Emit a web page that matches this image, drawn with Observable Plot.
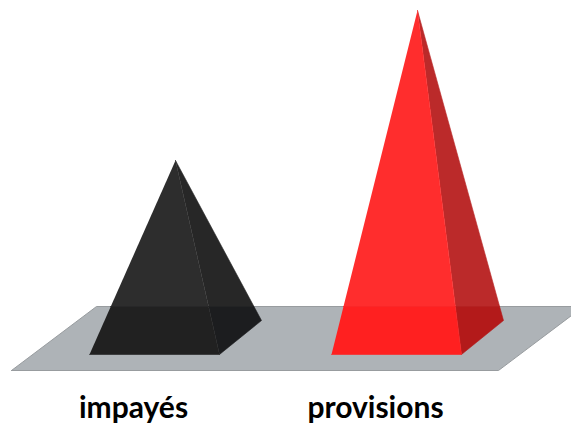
<!DOCTYPE html>
<html>
<head>
<meta charset="utf-8">
<style>
  html, body { margin: 0; padding: 0; background: #fff; overflow: hidden; }
</style>
<script src="https://cdn.jsdelivr.net/npm/d3@7"></script>
<script src="https://cdn.jsdelivr.net/npm/@observablehq/plot@0.6"></script>
</head>
<body>
<div id="chart"></div>
<script>
// Two categories, heights in chart units above the floor's front line
const categories = ["impayés", "provisions"];
const heights = [194, 344];

// Face colours: [above the floor's back edge, in front of the floor]
const frontColors = [["#2d2d2d", "#212121"], ["#ff2d2d", "#ff2020"]];
const sideColors = [["#272727", "#1c1d1f"], ["#bb2a2a", "#b31a1a"]];

// Pyramid and floor proportions, in the same units as the heights
const slotStart = 89, slotStep = 242;
const baseWidth = 130, depthX = 42, depthY = 34, apexX = 86;
const floor = {x0: 11, x1: 498, y0: -16, y1: 48, skew: 85};

const leftOf = (i) => slotStart + i * slotStep;

// Point where the edge from a to b crosses the floor's back edge
const crossing = (a, b) => {
  const t = (floor.y1 - a.y) / (b.y - a.y);
  return {x: a.x + t * (b.x - a.x), y: floor.y1};
};

// Splits a face given as corners plus apex into its upper and lower parts
const splitFace = (corners, apex) => {
  const left = crossing(corners[0], apex);
  const right = crossing(corners[corners.length - 1], apex);
  return [[left, right, apex], [...corners, right, left]];
};

const floorShape = [
  {x: floor.x0, y: floor.y0},
  {x: floor.x1, y: floor.y0},
  {x: floor.x1 + floor.skew, y: floor.y1},
  {x: floor.x0 + floor.skew, y: floor.y1},
  {x: floor.x0, y: floor.y0}
];

const polygon = (points, color) =>
  Plot.line(points, {x: "x", y: "y", fill: color, stroke: color, strokeWidth: 0.6});

const pyramid = (i) => {
  const l = leftOf(i);
  const apex = {x: l + apexX, y: heights[i]};
  const corner = {x: l + baseWidth, y: 0};
  const back = {x: l + baseWidth + depthX, y: depthY};
  const front = splitFace([{x: l, y: 0}, corner], apex);
  const side = splitFace([corner, back], apex);
  return [
    polygon(side[0], sideColors[i][0]),
    polygon(side[1], sideColors[i][1]),
    polygon(front[0], frontColors[i][0]),
    polygon(front[1], frontColors[i][1])
  ];
};

const chart = Plot.plot({
  width: 571,
  height: 423,
  margin: 0,
  x: {domain: [0, 571], range: [0, 571], axis: null},
  y: {domain: [-69, 354], range: [423, 0], axis: null},
  marks: [
    Plot.line(floorShape, {x: "x", y: "y", fill: "#aeb3b7", stroke: "#989c9f", strokeWidth: 1}),
    ...categories.flatMap((_, i) => pyramid(i)),
    Plot.text(categories, {
      x: (_, i) => leftOf(i) + apexX - 42,
      y: -53.5,
      text: (d) => d,
      fontFamily: "Lato",
      fontWeight: 700,
      fontSize: 30,
      fill: "#000"
    })
  ]
});

document.getElementById("chart").append(chart);
</script>
</body>
</html>
